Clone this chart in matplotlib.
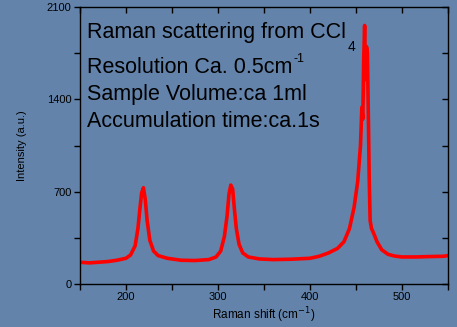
import numpy as np
import matplotlib.pyplot as plt
from matplotlib.ticker import MultipleLocator

plt.rcParams['font.family'] = ['Liberation Sans', 'DejaVu Sans']

# Raman spectrum of CCl4
shift = [150, 160, 170, 180, 190, 200, 205, 210, 213, 215, 217, 219, 221, 223,
         226, 230, 235, 245, 260, 275, 290, 298, 303, 307, 310, 312, 314, 316,
         318, 320, 323, 327, 333, 345, 360, 380, 400, 410, 420, 430, 437, 443,
         448, 452, 455, 456.5, 457.5, 458.5, 459.5, 460.5, 461.5, 462.5, 463.5,
         464.5, 465.5, 467, 469, 473, 478, 485, 492, 500, 515, 530, 545, 550]
intensity = [165, 160, 165, 170, 180, 195, 220, 290, 420, 560, 690, 730, 640, 480,
             330, 250, 215, 195, 180, 178, 185, 205, 250, 360, 520, 680, 750, 720,
             560, 420, 300, 235, 205, 190, 185, 188, 195, 210, 235, 270, 320, 420,
             580, 780, 1050, 1340, 1250, 1700, 1960, 1550, 1800, 1760, 1300,
             800, 480, 420, 390, 320, 260, 225, 212, 205, 205, 208, 210, 215]

xticks = [200, 300, 400, 500]
yticks = [0, 700, 1400, 2100]

# (main text, raised/lowered part, where it goes)
info_lines = [("Raman scattering from CCl", "4", "sub"),
              ("Resolution Ca. 0.5cm", "-1", "sup"),
              ("Sample Volume:ca 1ml", "", ""),
              ("Accumulation time:ca.1s", "", "")]
baselines = [0.887, 0.762, 0.664, 0.568]

bg = "#6383ab"
fig = plt.figure(figsize=(4.57, 3.27), dpi=100, facecolor=bg)
ax = fig.add_axes([0.175, 0.1315, 0.805, 0.847])
ax.set_facecolor(bg)

ax.plot(shift, intensity, color="red", linewidth=2.6)

ax.set_xlim(150, 550)
ax.set_ylim(0, 2100)
ax.set_xticks(xticks)
ax.set_yticks(yticks)
ax.xaxis.set_minor_locator(MultipleLocator(50))
ax.yaxis.set_minor_locator(MultipleLocator(350))
ax.tick_params(which="both", direction="out", length=4, width=1,
               labelsize=8, color="black", pad=2)
ax.tick_params(which="both", top=True, right=True, labeltop=False, labelright=False)
for t in ax.xaxis.get_ticklines(minor=False)[1::2] + ax.xaxis.get_ticklines(minor=True)[1::2]:
    t.set_marker(3)  # top ticks point inward
for t in ax.yaxis.get_ticklines(minor=False)[1::2] + ax.yaxis.get_ticklines(minor=True)[1::2]:
    t.set_marker(0)  # right ticks point inward
for s in ax.spines.values():
    s.set_linewidth(1)

ax.set_xlabel("Raman shift (cm$^{-1}$)", fontsize=8.5, labelpad=2)
ax.set_ylabel("Intensity (a.u.)", fontsize=8, labelpad=14)

for (t, extra, kind), yy in zip(info_lines, baselines):
    txt = ax.text(0.02, yy, t, transform=ax.transAxes, fontsize=15.5,
                  va="baseline", ha="left", color="black")
    if kind == "sub":
        ax.annotate(extra, xy=(1, 0), xycoords=txt, xytext=(1, 2.5),
                    textcoords="offset points", fontsize=10, va="top", ha="left")
    elif kind == "sup":
        ax.annotate(extra, xy=(1, 1), xycoords=txt, xytext=(0.5, 2.5),
                    textcoords="offset points", fontsize=9, va="top", ha="left")

fig.savefig("out.png", dpi=100, facecolor=bg)
